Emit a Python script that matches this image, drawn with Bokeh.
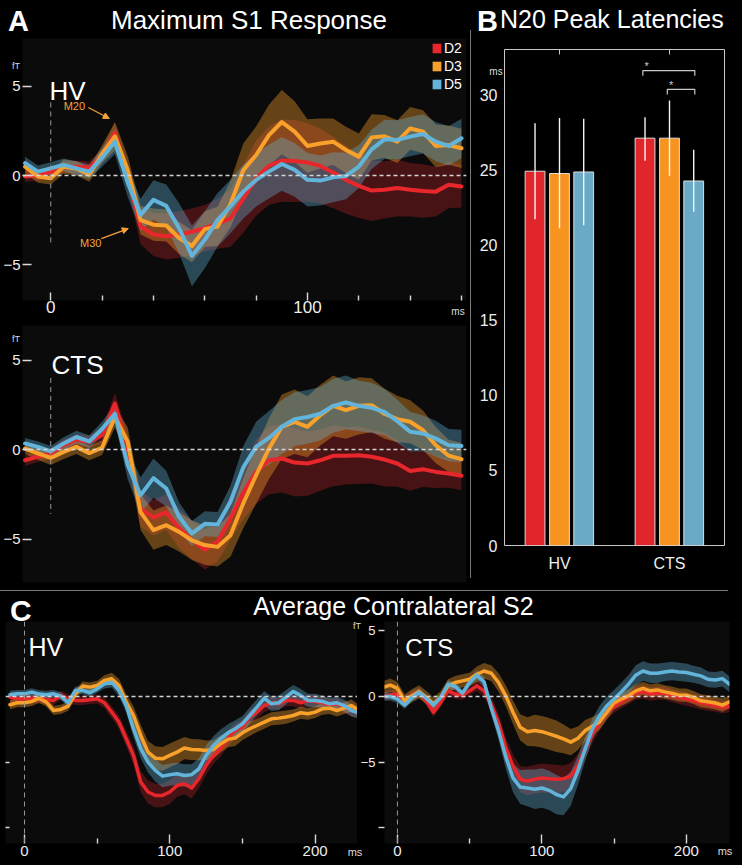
from bokeh.plotting import figure
from bokeh.layouts import column, row
from bokeh.models import (Range1d, FixedTicker, Span, Label, Legend, LegendItem,
                          Div, Arrow, NormalHead, LinearAxis)
from bokeh.embed import file_html
from bokeh.resources import INLINE

FONT = "Liberation Sans"
SERIES = ["D2", "D3", "D5"]
LINE_COLORS = ["#e8272c", "#f9a12b", "#63b4da"]
BAND_ALPHAS = [0.27, 0.38, 0.36]
BAR_COLORS = ["#e0262a", "#f7941f", "#6aaac6"]
ONSET = 0

# ---------------- Panel A : Maximum S1 response (fT), time in ms ----------------
T_S1 = [-10, -5, 0, 5, 10, 15, 20, 25, 30, 35, 40, 45, 50, 55, 60, 65, 70, 75, 80,
        85, 90, 95, 100, 105, 110, 115, 120, 125, 130, 135, 140, 145, 150, 155, 160]

S1_HV_D2 = [-0.05, 0.0, 0.2, 0.45, 0.5, 0.45, 1.1, 2.4, 0.0, -2.85, -3.3, -3.4, -3.3, -3.15,
            -2.95, -2.7, -2.4, -1.3, -0.15, 0.55, 0.84, 0.82, 0.73, 0.54, 0.17, -0.24, -0.58,
            -0.84, -0.8, -0.7, -0.8, -0.86, -0.9, -0.52, -0.61]
S1_HV_D3 = [0.5, -0.05, -0.15, 0.5, 0.4, 0.05, 1.2, 2.2, 0.3, -2.5, -2.75, -2.8, -3.5, -3.95,
            -3.0, -2.85, -1.6, 0.3, 1.15, 2.27, 3.0, 2.46, 1.66, 1.8, 1.9, 1.43, 1.06, 2.14,
            2.2, 1.9, 2.64, 2.46, 1.66, 1.71, 1.53]
S1_HV_D5 = [0.7, 0.22, 0.4, 0.6, 0.4, 0.22, 1.0, 1.9, -0.4, -2.2, -1.36, -1.7, -2.95, -4.5,
            -3.6, -2.48, -1.73, -0.9, -0.24, 0.22, 0.65, 0.32, -0.24, -0.28, -0.1, -0.02, 0.5,
            1.47, 2.03, 2.0, 2.18, 2.33, 1.9, 1.66, 2.09]
S1_HV_D2_ERR = [0.3, 0.3, 0.3, 0.3, 0.35, 0.35, 0.4, 0.55, 0.7, 1.0, 1.2, 1.3, 1.3, 1.3, 1.3,
                1.4, 1.6, 1.9, 2.1, 2.2, 2.3, 2.3, 2.2, 2.1, 2.0, 1.9, 1.8, 1.7, 1.6, 1.6, 1.5,
                1.5, 1.4, 1.3, 1.2]
S1_HV_D3_ERR = [0.35, 0.35, 0.35, 0.4, 0.4, 0.4, 0.5, 0.8, 0.8, 0.8, 0.9, 0.9, 0.9, 0.9, 1.0,
                1.1, 1.3, 1.5, 1.6, 1.7, 1.8, 1.7, 1.5, 1.4, 1.3, 1.3, 1.3, 1.3, 1.2, 1.2, 1.2,
                1.2, 1.2, 1.1, 1.1]
S1_HV_D5_ERR = [0.35, 0.35, 0.35, 0.35, 0.4, 0.4, 0.5, 0.7, 0.8, 0.9, 1.1, 1.2, 1.4, 1.7, 1.6,
                1.5, 1.5, 1.5, 1.5, 1.5, 1.5, 1.5, 1.5, 1.4, 1.4, 1.3, 1.2, 1.1, 1.1, 1.1, 1.1,
                1.1, 1.1, 1.1, 1.1]

S1_CTS_D2 = [-0.6, -0.4, -0.22, 0.24, 0.55, 0.43, 0.8, 2.57, 0.05, -3.3, -3.8, -3.5, -4.4,
             -5.05, -5.6, -5.15, -3.85, -2.4, -1.25, -0.6, -0.5, -0.73, -0.78, -0.6, -0.35,
             -0.35, -0.32, -0.4, -0.56, -0.78, -1.2, -1.1, -1.25, -1.34, -1.47]
S1_CTS_D3 = [0.05, -0.22, -0.47, -0.13, 0.15, -0.2, 0.1, 1.82, 0.43, -3.5, -4.5, -4.23, -4.6,
             -5.07, -5.34, -5.44, -4.79, -3.0, -1.43, 0.05, 1.27, 1.55, 1.27, 1.92, 2.44, 2.2,
             2.44, 2.48, 2.0, 1.7, 1.55, 1.08, 0.24, -0.35, -0.54]
S1_CTS_D5 = [0.34, 0.15, -0.1, 0.34, 0.7, 0.45, 1.15, 2.0, -0.87, -2.55, -1.6, -2.18, -3.76,
             -4.69, -4.15, -4.19, -2.92, -1.0, 0.15, 0.65, 1.27, 1.7, 1.82, 2.0, 2.44, 2.63,
             2.44, 2.33, 2.1, 1.58, 0.99, 0.9, 0.61, 0.24, 0.2]
S1_CTS_D2_ERR = [0.3, 0.3, 0.3, 0.3, 0.3, 0.35, 0.4, 0.6, 0.8, 1.0, 1.0, 1.0, 1.1, 1.1, 1.1,
                 1.1, 1.2, 1.5, 1.8, 1.9, 1.9, 1.9, 1.8, 1.7, 1.7, 1.6, 1.6, 1.5, 1.5, 1.3,
                 1.1, 1.0, 0.9, 0.8, 0.8]
S1_CTS_D3_ERR = [0.3, 0.35, 0.4, 0.4, 0.4, 0.4, 0.4, 0.6, 0.8, 1.0, 1.1, 1.1, 1.1, 1.1, 1.1,
                 1.1, 1.2, 1.4, 1.6, 1.7, 1.8, 1.8, 1.7, 1.7, 1.7, 1.6, 1.6, 1.5, 1.4, 1.3,
                 1.2, 1.1, 1.0, 0.9, 0.9]
S1_CTS_D5_ERR = [0.3, 0.3, 0.3, 0.35, 0.35, 0.35, 0.4, 0.5, 0.8, 1.0, 1.1, 1.0, 0.8, 0.7, 0.7,
                 0.7, 0.9, 1.2, 1.4, 1.5, 1.5, 1.5, 1.5, 1.5, 1.5, 1.5, 1.4, 1.4, 1.3, 1.2,
                 1.1, 1.0, 1.0, 0.9, 0.9]

# ---------------- Panel B : N20 peak latencies (ms) ----------------
GROUPS = ["HV", "CTS"]
LAT_MEAN = [[24.9, 27.1], [24.75, 27.1], [24.85, 24.25]]      # D2, D3, D5
LAT_LO = [[21.7, 25.6], [21.1, 24.6], [21.3, 22.2]]
LAT_HI = [[28.1, 28.5], [28.45, 29.6], [28.4, 26.33]]
SIG = [("CTS", "D2", "D5", 31.6, "*"), ("CTS", "D3", "D5", 30.35, "*")]

# ---------------- Panel C : Average contralateral S2 (fT) ----------------
T_S2 = [-10, -5, 0, 5, 10, 15, 20, 25, 30, 35, 40, 45, 50, 55, 60, 65, 70, 75, 80, 85, 90,
        95, 100, 105, 110, 115, 120, 125, 130, 135, 140, 145, 150, 155, 160, 165, 170, 175,
        180, 185, 190, 195, 200, 205, 210, 215, 220, 225, 230]

S2_HV_D2 = [-0.05, -0.18, -0.18, -0.13, -0.18, -0.23, -0.3, 0.08, -0.18, -0.3, -0.3, -0.25,
            -0.18, -0.48, -1.19, -1.95, -3.22, -4.49, -6.52, -7.28, -7.54, -7.54, -7.28,
            -6.78, -6.65, -6.98, -6.27, -5.25, -4.49, -3.98, -3.22, -2.59, -2.34, -1.57,
            -1.19, -0.69, -0.48, -0.56, -0.3, -0.3, -0.48, -0.3, -0.38, -0.48, -0.63, -0.56,
            -0.81, -1.07, -1.19]
S2_HV_D3 = [-0.63, -0.48, -0.48, -0.38, -0.13, -0.43, -1.07, -0.99, -0.74, 0.2, 0.79, 0.71,
            0.84, 1.22, 1.35, 0.84, -0.43, -1.45, -2.97, -4.24, -4.7, -4.75, -4.49, -4.24,
            -3.93, -4.04, -4.06, -4.11, -4.04, -3.6, -3.27, -3.17, -2.77, -2.46, -2.21,
            -1.95, -1.7, -1.65, -1.57, -1.45, -1.24, -1.32, -1.19, -0.94, -0.89, -1.07,
            -0.89, -0.69, -1.07]
S2_HV_D5 = [0.13, 0.2, 0.2, 0.33, 0.18, 0.13, 0.2, 0.03, -0.48, 0.46, 0.46, 0.28, 0.58,
            0.96, 1.09, 0.46, -0.69, -2.46, -3.98, -5.0, -5.63, -6.07, -5.96, -5.89, -6.02,
            -5.96, -5.51, -4.49, -3.73, -3.22, -2.77, -2.46, -2.08, -1.45, -0.81, -0.13,
            -0.56, -0.48, -0.05, 0.38, 0.08, -0.3, -0.3, -0.38, -0.56, -0.48, -0.69, -1.07,
            -1.24]
S2_HV_D2_ERR = [0.35, 0.35, 0.35, 0.35, 0.35, 0.35, 0.35, 0.35, 0.35, 0.35, 0.35, 0.35, 0.35,
                0.4, 0.45, 0.5, 0.6, 0.7, 0.8, 0.9, 0.9, 0.9, 0.9, 0.85, 0.8, 0.8, 0.75, 0.7,
                0.65, 0.6, 0.6, 0.55, 0.55, 0.5, 0.5, 0.5, 0.45, 0.45, 0.45, 0.45, 0.45, 0.45,
                0.45, 0.45, 0.45, 0.45, 0.45, 0.45, 0.45]
S2_HV_D3_ERR = [0.35, 0.35, 0.35, 0.35, 0.35, 0.35, 0.35, 0.35, 0.35, 0.35, 0.35, 0.35, 0.35,
                0.4, 0.45, 0.5, 0.6, 0.7, 0.8, 0.85, 0.9, 0.9, 0.9, 0.9, 0.85, 0.8, 0.8,
                0.75, 0.7, 0.65, 0.6, 0.6, 0.55, 0.55, 0.5, 0.5, 0.5, 0.5, 0.5, 0.45, 0.45,
                0.45, 0.45, 0.45, 0.45, 0.45, 0.45, 0.45, 0.45]
S2_HV_D5_ERR = [0.3, 0.3, 0.3, 0.3, 0.3, 0.3, 0.3, 0.3, 0.3, 0.3, 0.3, 0.3, 0.3, 0.35, 0.4,
                0.45, 0.55, 0.65, 0.75, 0.8, 0.85, 0.85, 0.85, 0.85, 0.85, 0.8, 0.8, 0.75,
                0.7, 0.7, 0.65, 0.65, 0.6, 0.6, 0.6, 0.55, 0.55, 0.55, 0.55, 0.5, 0.5, 0.5,
                0.5, 0.45, 0.45, 0.45, 0.45, 0.45, 0.45]

S2_CTS_D2 = [0.0, 0.1, 0.18, -0.45, 0.1, 0.3, -0.33, -1.21, -0.45, 0.43, 0.18, 0.1, 0.43,
             0.81, 0.43, -0.6, -2.0, -3.9, -5.3, -6.3, -6.45, -6.31, -6.21, -6.26, -6.31,
             -6.26, -6.06, -5.25, -3.99, -2.85, -1.97, -1.21, -0.76, -0.4, -0.08, 0.25, 0.35,
             0.18, 0.25, 0.25, 0.05, -0.08, -0.2, -0.33, -0.5, -0.58, -0.71, -0.83, -0.76]
S2_CTS_D3 = [0.68, 0.86, 0.61, -0.33, 0.05, 0.35, -0.08, -0.58, -0.08, 0.81, 1.06, 1.19, 1.31,
             1.69, 1.94, 1.77, 1.06, 0.05, -1.2, -2.35, -2.68, -2.6, -2.68, -2.85, -3.03,
             -3.23, -3.48, -3.18, -2.6, -2.27, -1.92, -1.21, -0.5, -0.2, 0.05, 0.43, 0.61,
             0.43, 0.5, 0.35, 0.25, 0.1, 0.1, -0.08, -0.33, -0.4, -0.5, -0.66, -0.4]
S2_CTS_D5 = [0.0, 0.0, -0.2, -0.66, -0.08, 0.3, -0.15, -0.66, -0.08, 0.93, 0.76, 0.25, 1.06,
             1.62, 1.1, -0.9, -2.6, -4.6, -6.2, -6.9, -6.97, -7.07, -6.97, -7.15, -7.47,
             -7.65, -7.02, -5.63, -3.99, -2.47, -1.46, -0.71, -0.2, 0.35, 0.93, 1.62, 1.94,
             1.77, 1.77, 1.87, 1.94, 1.87, 1.82, 1.69, 1.57, 1.31, 1.26, 1.36, 0.93]
S2_CTS_D2_ERR = [0.35, 0.35, 0.35, 0.35, 0.35, 0.35, 0.35, 0.35, 0.35, 0.35, 0.35, 0.35, 0.35,
                 0.4, 0.5, 0.6, 0.7, 0.8, 0.9, 1.0, 1.1, 1.1, 1.1, 1.1, 1.1, 1.0, 1.0, 0.9,
                 0.8, 0.7, 0.6, 0.55, 0.5, 0.5, 0.5, 0.5, 0.5, 0.5, 0.5, 0.5, 0.5, 0.5, 0.5,
                 0.5, 0.5, 0.5, 0.45, 0.45, 0.45]
S2_CTS_D3_ERR = [0.5, 0.5, 0.5, 0.5, 0.5, 0.5, 0.5, 0.5, 0.5, 0.5, 0.5, 0.5, 0.5, 0.6, 0.6,
                 0.6, 0.7, 0.8, 0.9, 1.0, 1.1, 1.2, 1.2, 1.2, 1.2, 1.1, 1.0, 0.9, 0.8, 0.7,
                 0.6, 0.55, 0.5, 0.5, 0.5, 0.5, 0.5, 0.5, 0.5, 0.5, 0.5, 0.5, 0.5, 0.5, 0.5,
                 0.5, 0.5, 0.5, 0.5]
S2_CTS_D5_ERR = [0.3, 0.3, 0.3, 0.3, 0.3, 0.3, 0.3, 0.3, 0.3, 0.3, 0.3, 0.3, 0.3, 0.35, 0.4,
                 0.5, 0.7, 0.9, 1.1, 1.3, 1.4, 1.5, 1.5, 1.5, 1.5, 1.4, 1.3, 1.1, 0.9, 0.8,
                 0.75, 0.7, 0.7, 0.7, 0.7, 0.75, 0.75, 0.75, 0.75, 0.7, 0.7, 0.7, 0.7, 0.65,
                 0.65, 0.6, 0.6, 0.6, 0.6]

ORANGE_TXT = "#f5a23a"
TICK_COL = "#d9d9d9"
LABEL_COL = "#eeeeee"
FRAME_BG = "#0b0b0b"
NAN = float("nan")


def base_fig(width, height, xr, yr, borders, frame_bg=FRAME_BG):
    p = figure(width=width, height=height, x_range=Range1d(*xr), y_range=Range1d(*yr),
               output_backend="svg", toolbar_location=None, tools="",
               min_border_left=borders[0], min_border_right=borders[1],
               min_border_top=borders[2], min_border_bottom=borders[3],
               background_fill_color=frame_bg, border_fill_color="black",
               outline_line_color=None)
    p.xgrid.visible = False
    p.ygrid.visible = False
    return p


def trace_panel(width, height, xr, yr, borders, t, means, errs, lw):
    p = base_fig(width, height, xr, yr, borders)
    for c, a, m, e in zip(LINE_COLORS, BAND_ALPHAS, means, errs):
        n = min(len(t), len(m), len(e))
        lo = [m[i] - e[i] for i in range(n)]
        hi = [m[i] + e[i] for i in range(n)]
        p.varea(x=t[:n], y1=lo, y2=hi, fill_color=c, fill_alpha=a)
    for c, m in zip(LINE_COLORS, means):
        n = min(len(t), len(m))
        p.line(t[:n], m[:n], line_color=c, line_width=lw, line_join="round", line_cap="round")
    p.add_layout(Span(location=0, dimension="width", line_color="#d4d4d4",
                      line_dash="4 3", line_width=1.4))
    return p


def style_axis(ax, size):
    ax.axis_line_color = None
    ax.major_tick_line_color = TICK_COL
    ax.minor_tick_line_color = TICK_COL
    ax.major_tick_line_width = 1.4
    ax.minor_tick_line_width = 1.4
    ax.major_label_text_color = LABEL_COL
    ax.major_label_text_font = FONT
    ax.major_label_text_font_size = size


def add_label(p, x, y, text, size, color="white", align="left", baseline="alphabetic",
              style="normal"):
    p.add_layout(Label(x=x, y=y, text=text, text_font=FONT, text_font_size=size,
                       text_color=color, text_align=align, text_baseline=baseline,
                       text_font_style=style))


def span_html(x, baseline, text, size, color="#ffffff", weight="normal", anchor="start"):
    top = baseline - 0.8465 * size
    tr = "translateX(-50%)" if anchor == "middle" else "none"
    return ('<span style="position:absolute;left:%.1fpx;top:%.1fpx;font-family:\'%s\';'
            'font-size:%dpx;font-weight:%s;color:%s;line-height:1;white-space:nowrap;'
            'transform:%s;z-index:20;">%s</span>'
            % (x, top, FONT, size, weight, color, tr, text))


def header_div(width, height, spans):
    inner = ''.join(spans)
    return Div(text='<div style="position:relative;width:%dpx;height:%dpx;">%s</div>'
               % (width, height, inner), width=width, height=height, margin=(0, 0, 0, 0),
               styles={"background-color": "#000000", "overflow": "visible",
                       "z-index": "20"})


# ======================= Panel A =======================
headA = header_div(470, 38, [
    span_html(8, 31, "A", 29, weight="bold"),
    span_html(249, 28.5, "Maximum S1 Response", 26, anchor="middle"),
    span_html(12, 70, "fT", 9, color="#dddddd"),
    span_html(12, 343, "fT", 9, color="#dddddd"),
    span_html(458, 315, "ms", 10, color="#dddddd", anchor="middle"),
])

S1_X = (-11.0, 161.95)

pA1 = trace_panel(470, 282, S1_X, (-7.0, 7.68), (21, 4, 0, 20), T_S1,
                  [S1_HV_D2, S1_HV_D3, S1_HV_D5],
                  [S1_HV_D2_ERR, S1_HV_D3_ERR, S1_HV_D5_ERR], 4)
pA1.segment(x0=[ONSET], y0=[4.1], x1=[ONSET], y1=[-3.8], line_color="#9a9a9a",
            line_dash="5 4", line_width=1)
xa = pA1.xaxis[0]
style_axis(xa, "17px")
xa.ticker = FixedTicker(ticks=[0, 100], minor_ticks=[20, 40, 60, 80, 120, 140, 160])
xa.major_tick_in = 8
xa.major_tick_out = 0
xa.minor_tick_in = 5
xa.minor_tick_out = 0
xa.major_label_standoff = 0
ya = pA1.yaxis[0]
style_axis(ya, "15px")
ya.ticker = FixedTicker(ticks=[-5, 0, 5])
ya.major_tick_out = 0
ya.major_tick_in = 9
ya.minor_tick_in = 0
ya.minor_tick_out = 0
ya.major_label_standoff = 2
add_label(pA1, -0.5, 4.76, "HV", "26px")
# peak annotations
add_label(pA1, 9.2, 3.87, "M20", "11px", color=ORANGE_TXT, align="center", baseline="middle")
add_label(pA1, 15.6, -3.78, "M30", "11px", color=ORANGE_TXT, align="center", baseline="middle")
pA1.add_layout(Arrow(end=NormalHead(size=6, fill_color=ORANGE_TXT, line_color=ORANGE_TXT),
                     x_start=14.65, y_start=3.81, x_end=22.8, y_end=3.2,
                     line_color=ORANGE_TXT, line_width=1.2))
pA1.add_layout(Arrow(end=NormalHead(size=6, fill_color=ORANGE_TXT, line_color=ORANGE_TXT),
                     x_start=19.7, y_start=-3.53, x_end=30.2, y_end=-2.97,
                     line_color=ORANGE_TXT, line_width=1.2))
# legend (coloured squares)
items = []
for s, c in zip(SERIES, LINE_COLORS):
    r = pA1.quad(left=[NAN], right=[NAN], top=[NAN], bottom=[NAN], fill_color=c,
                 line_color=None)
    items.append(LegendItem(label=s, renderers=[r]))
leg = Legend(items=items, location="top_right", background_fill_alpha=0,
             border_line_alpha=0, label_text_color="white", label_text_font=FONT,
             label_text_font_size="14px", glyph_width=11, glyph_height=12,
             label_height=12, label_standoff=2, spacing=2, padding=0, margin=2)
pA1.add_layout(leg)

pA2 = trace_panel(470, 270, S1_X, (-7.43, 6.93), (21, 4, 5, 8), T_S1,
                  [S1_CTS_D2, S1_CTS_D3, S1_CTS_D5],
                  [S1_CTS_D2_ERR, S1_CTS_D3_ERR, S1_CTS_D5_ERR], 4)
pA2.segment(x0=[ONSET], y0=[4.0], x1=[ONSET], y1=[-3.6], line_color="#9a9a9a",
            line_dash="5 4", line_width=1)
pA2.xaxis.visible = False
ya2 = pA2.yaxis[0]
style_axis(ya2, "15px")
ya2.ticker = FixedTicker(ticks=[-5, 0, 5])
ya2.major_tick_out = 0
ya2.major_tick_in = 9
ya2.minor_tick_in = 0
ya2.minor_tick_out = 0
ya2.major_label_standoff = 2
add_label(pA2, 0.3, 4.7, "CTS", "26px")

colA = column(headA, pA1, pA2, spacing=0)

# ======================= Panel B =======================
headB = header_div(271, 38, [
    span_html(6, 31, "B", 29, weight="bold"),
    span_html(29, 28.5, "N20 Peak Latencies", 25),
    span_html(25, 75, "ms", 10, color="#dddddd", anchor="middle"),
])

pB = base_fig(271, 552, (0, 4), (0, 33), (33, 18, 11, 45), frame_bg="black")
pB.outline_line_color = "#c8c8c8"
pB.outline_line_width = 1
centers = [2 * i + 1 for i in range(len(GROUPS))]
offsets = [-0.445, 0.0, 0.44]
bar_x = {}
for si, s in enumerate(SERIES):
    xs = [centers[g] + offsets[si] for g in range(len(GROUPS))]
    for g, grp in enumerate(GROUPS):
        bar_x[(grp, s)] = xs[g]
    pB.vbar(x=xs, top=LAT_MEAN[si], bottom=0, width=0.36, fill_color=BAR_COLORS[si],
            line_color="#dcdcdc", line_width=1)
    pB.segment(x0=xs, y0=LAT_LO[si], x1=xs, y1=LAT_HI[si], line_color="#f4f4f4",
               line_width=1.4)
for grp, a, b, lvl, mark in SIG:
    xa_, xb_ = bar_x[(grp, a)] - 0.04, bar_x[(grp, b)] + 0.02
    pB.multi_line(xs=[[xa_, xa_, xb_, xb_]], ys=[[lvl - 0.35, lvl, lvl, lvl - 0.35]],
                  line_color="#c8c8c8", line_width=1.2)
    add_label(pB, xa_ + 0.07, lvl + 0.3, mark, "11px", color="#cccccc", align="center",
              baseline="middle")
xb = pB.xaxis[0]
style_axis(xb, "16px")
xb.ticker = FixedTicker(ticks=centers)
xb.major_label_overrides = {c: g for c, g in zip(centers, GROUPS)}
xb.major_tick_in = 0
xb.major_tick_out = 0
xb.minor_tick_in = 0
xb.minor_tick_out = 0
xb.major_label_standoff = 9
yb = pB.yaxis[0]
style_axis(yb, "16px")
yb.ticker = FixedTicker(ticks=[0, 5, 10, 15, 20, 25, 30])
yb.major_tick_in = 0
yb.major_tick_out = 0
yb.minor_tick_in = 0
yb.minor_tick_out = 0
yb.major_label_standoff = 7
top_ax = LinearAxis(ticker=FixedTicker(ticks=[], minor_ticks=centers), major_tick_in=0,
                    major_tick_out=0, minor_tick_in=5, minor_tick_out=0,
                    axis_line_color=None, major_label_standoff=0,
                    minor_tick_line_color="#c8c8c8")
pB.add_layout(top_ax, "above")

colB = column(headB, pB, spacing=0)

vsep = Div(text="", width=1, height=548, margin=(30, 0, 0, 0),
           styles={"background-color": "#7a7a7a"})
top_row = row(colA, vsep, colB, spacing=0)

hsep = Div(text="", width=728, height=1, margin=(0, 0, 0, 0),
           styles={"background-color": "#7a7a7a"})

# ======================= Panel C =======================
headC = header_div(742, 30, [
    span_html(10, 30, "C", 30, weight="bold"),
    span_html(393.5, 24, "Average Contralateral S2", 25, anchor="middle"),
    span_html(353, 39, "fT", 9, color="#dddddd"),
    span_html(355, 265, "ms", 11, color="#dddddd", anchor="middle"),
    span_html(725, 264, "ms", 11, color="#dddddd", anchor="middle"),
])

S2_Y = (-11.2, 5.71)

pC1 = trace_panel(357, 242, (-13.1, 229.2), S2_Y, (5, 0, 0, 20), T_S2,
                  [S2_HV_D2, S2_HV_D3, S2_HV_D5],
                  [S2_HV_D2_ERR, S2_HV_D3_ERR, S2_HV_D5_ERR], 3.5)
pC2 = trace_panel(385, 242, (-8.95, 229.9), S2_Y, (25, 13, 0, 20), T_S2,
                  [S2_CTS_D2, S2_CTS_D3, S2_CTS_D5],
                  [S2_CTS_D2_ERR, S2_CTS_D3_ERR, S2_CTS_D5_ERR], 3.5)
for p in (pC1, pC2):
    p.add_layout(Span(location=ONSET, dimension="height", line_color="#9a9a9a",
                      line_dash="5 4", line_width=1))
    xc = p.xaxis[0]
    style_axis(xc, "15px")
    xc.ticker = FixedTicker(ticks=[0, 100, 200], minor_ticks=[50, 150])
    xc.major_tick_in = 9
    xc.major_tick_out = 0
    xc.minor_tick_in = 5
    xc.minor_tick_out = 0
    xc.major_label_standoff = 2

yc1 = pC1.yaxis[0]
style_axis(yc1, "13px")
yc1.ticker = FixedTicker(ticks=[], minor_ticks=[-10, -5])
yc1.major_tick_in = 0
yc1.major_tick_out = 0
yc1.minor_tick_in = 4
yc1.minor_tick_out = 0
yc1.major_label_standoff = 0
add_label(pC1, 2.75, 3.73, "HV", "25px")

yc2 = pC2.yaxis[0]
style_axis(yc2, "13px")
yc2.ticker = FixedTicker(ticks=[-5, 0, 5], minor_ticks=[-10])
yc2.major_tick_in = 0
yc2.major_tick_out = 6
yc2.minor_tick_in = 0
yc2.minor_tick_out = 6
yc2.major_label_standoff = 3
add_label(pC2, 5.5, 3.73, "CTS", "24px")

bottom_row = row(pC1, pC2, spacing=0)

page = column(top_row, hsep, headC, bottom_row, spacing=0)

html = file_html(page, INLINE, title="MEG responses")
html = html.replace("</head>", "<style>html,body{background:#000000;}</style></head>", 1)
open("out.html", "w").write(html)
